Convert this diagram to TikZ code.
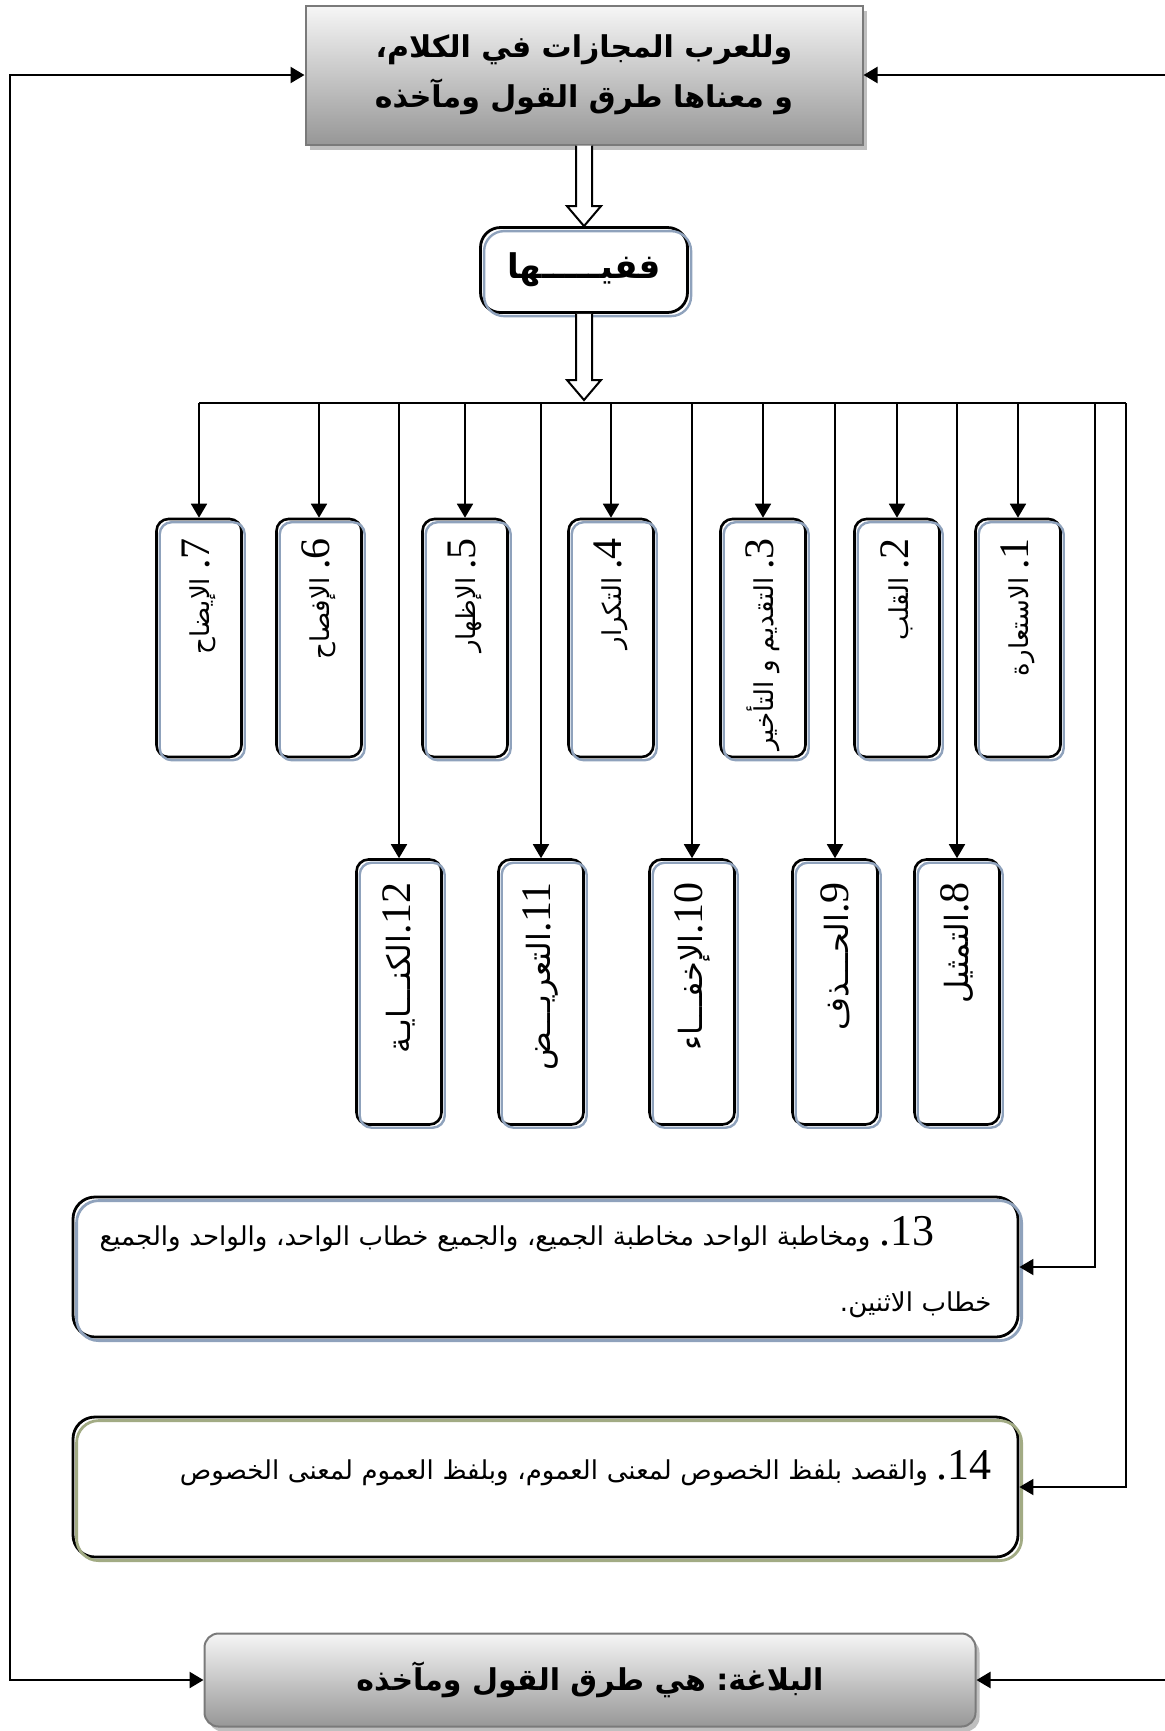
\documentclass[tikz,border=0pt]{standalone}
\usepackage{fontspec}
\usepackage{xcolor}
\usepackage{graphicx}
\usepackage{tikz}
\usetikzlibrary{arrows.meta,calc}
\newfontfamily\arabicfont[Script=Arabic]{DejaVu Sans}
\newfontfamily\numfont{Liberation Serif}
\TeXXeTstate=1
\frenchspacing
\definecolor{shadowblue}{HTML}{8FA2BC}
\definecolor{shadowolive}{HTML}{A2AB84}
\definecolor{framegray}{HTML}{7A7A7A}
\definecolor{topgray}{HTML}{F6F6F6}
\definecolor{botgray}{HTML}{979797}

\newcommand\boxlabel[4]{\rotatebox{90}{\makebox[#1][r]{\arabicfont\fontsize{#2}{15}\selectfont
  \beginR\beginL{\numfont\fontsize{21}{21}\selectfont #3}\endL{\numfont\fontsize{21}{21}\selectfont .}#4\endR}}}
\newcommand\bignum[1]{\beginL{\numfont\fontsize{22}{22}\selectfont #1}\endL{\numfont\fontsize{22}{22}\selectfont .}}
\newcommand\hollowarrow[2]{%
  \draw[hollow] ($(#1)+(-8,0)$) -- ($(#2)+(-8,-20)$) -- ($(#2)+(-17,-20)$) -- (#2)
    -- ($(#2)+(17,-20)$) -- ($(#2)+(8,-20)$) -- ($(#1)+(8,0)$);}

\tikzset{
  conn/.style={line width=0.9pt, -{Triangle[length=7pt,width=8pt]}},
  busline/.style={line width=0.9pt},
  loopline/.style={line width=1.2pt, {Triangle[length=7pt,width=8pt]}-{Triangle[length=7pt,width=8pt]}},
  hollow/.style={draw, line width=1pt, fill=white},
  itembox/.style={draw, line width=1.3pt, rounded corners=6pt, fill=white, inner sep=0pt,
    postaction={draw=shadowblue, line width=1.2pt, transform canvas={xshift=1.6pt,yshift=-1.6pt}}},
  bigbox/.style={draw, line width=1.4pt, rounded corners=11pt, fill=white, inner sep=0pt,
    minimum width=472.5pt, minimum height=70pt, text width=446pt, align=right,
    postaction={draw=#1, line width=1.4pt, transform canvas={xshift=1.8pt,yshift=-1.8pt}}},
  bigbox/.default=shadowblue,
  graybox/.style={draw=framegray, line width=1pt, top color=topgray, bottom color=botgray,
    inner sep=0pt, align=center, font=\arabicfont\bfseries\fontsize{15}{25}\selectfont,
    preaction={fill=gray!50, transform canvas={xshift=2pt,yshift=-2.5pt}}}
}

\begin{document}
\begin{tikzpicture}[x=0.5pt,y=-0.5pt]
\useasboundingbox (0,0) rectangle (1165,1731);
\clip (0,0) rectangle (1165,1731);

\node[graybox, minimum width=278.5pt, minimum height=69.5pt] (title) at (584,75)
  {\beginR وللعرب المجازات في الكلام،\endR\\\beginR و معناها طرق القول ومآخذه\endR};
\node[draw, line width=1.4pt, rounded corners=10pt, fill=white, minimum width=103.5pt, minimum height=42.5pt,
  font=\arabicfont\bfseries\fontsize{17}{20}\selectfont,
  postaction={draw=shadowblue, line width=1.2pt, transform canvas={xshift=1.8pt,yshift=-1.8pt}}] (fiha) at (584,270)
  {\beginR ففيـــــها\endR};
\coordinate (bus) at (584,403);
\coordinate (bustip) at (584,400);
\coordinate (c13) at (1095,403);
\coordinate (c14) at (1126,403);

\foreach \n/\x/\t in {1/1018/{ الاستعارة},2/897/{ القلب},3/763/{ التقديم و التأخير},4/611/{ التكرار},
    5/465/{ الإظهار},6/319/{ الإفصاح},7/199/{ الإيضاح}}
  \node[itembox, minimum width=42.5pt, minimum height=119pt] (t\n) at (\x,638) {\boxlabel{100pt}{13}{\n}{\t}};
\foreach \n/\x/\t in {8/957/التمثيل,9/835/الحـــذف,10/692/الإخفـــاء,11/541/التعريـــض,12/399/الكنـــايـة}
  \node[itembox, minimum width=42.5pt, minimum height=132.5pt] (b\n) at (\x,992) {\boxlabel{110pt}{16}{\n}{\t}};

\node[bigbox, font=\arabicfont\fontsize{13}{33}\selectfont] (p13) at (545.5,1267)
  {\makebox[\linewidth][s]{\beginR\bignum{13} ومخاطبة الواحد مخاطبة الجميع، والجميع خطاب الواحد، والواحد والجميع\endR}\\
   \beginR خطاب الاثنين.\endR};
\node[bigbox=shadowolive, font=\arabicfont\fontsize{13}{22}\selectfont] (p14) at (545.5,1487)
  {\beginR\bignum{14} والقصد بلفظ الخصوص لمعنى العموم، وبلفظ العموم لمعنى الخصوص\endR\\\mbox{}};

\node[graybox, rounded corners=7pt, minimum width=385.5pt, minimum height=46.5pt] (foot) at (590,1680)
  {\beginR البلاغة: هي طرق القول ومآخذه\endR};

\hollowarrow{title.south}{fiha.north}
\hollowarrow{fiha.south}{bustip}

\draw[busline] (t7.north |- bus) -- (c14);
\foreach \n in {1,...,7}
  \draw[conn] (t\n.north |- bus) -- (t\n.north);
\foreach \n in {8,...,12}
  \draw[conn] (b\n.north |- bus) -- (b\n.north);
\draw[conn] (c13) |- (p13.east);
\draw[conn] (c14) |- (p14.east);

\coordinate (lft) at (10,900);
\coordinate (rgt) at (1190,900);
\draw[loopline] (title.west) -| (lft) |- (foot.west);
\draw[loopline] (title.east) -| (rgt) |- (foot.east);
\end{tikzpicture}
\end{document}
